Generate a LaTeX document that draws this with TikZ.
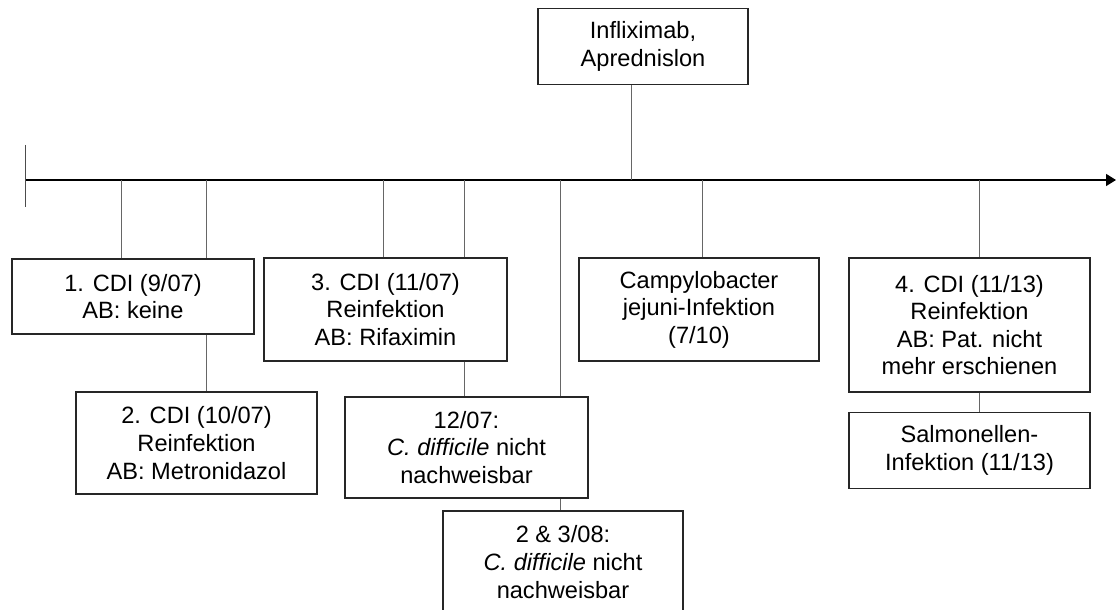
\documentclass[tikz,border=0pt]{standalone}
\usepackage{fontspec}
\setmainfont{Liberation Sans}
\usetikzlibrary{arrows.meta,positioning}

\begin{document}
\begin{tikzpicture}[
        x=0.5pt, y=-0.5pt,
        every node/.style={font=\fontsize{11.8}{13.8}\selectfont, text=black},
        event/.style={rectangle, draw=black!85, line width=0.55pt, align=center, minimum width=120.5pt, inner sep=0pt, fill=white},
        line/.style={draw, black!60, line width=0.5pt},
        axis/.style={draw, black, line width=0.8pt, -{Triangle[length=5pt, width=6pt]}}
    ]
        \useasboundingbox (0,0) rectangle (1116,610);

        % time axis
        \coordinate (start) at (25,180);
        \coordinate (end) at (1116,180);
        \path [axis] (start) -- (end);
        \path [line, black!70] ([yshift=17.5pt]start) -- ([yshift=-13.5pt]start);

        % events
        \node [event, minimum width=105pt, minimum height=38pt] (drug) at (643,46.5) {Infliximab,\\Aprednislon};
        \node [event, minimum width=121pt, minimum height=37.5pt] (cdi1) at (133,296.5) {1. CDI (9/07)\\AB: keine};
        \node [event, minimum height=51pt] (cdi2) at (196.5,443) {2. CDI (10/07)\\Reinfektion\\AB: Metronidazol};
        \node [event, minimum width=121.5pt, minimum height=51.5pt] (cdi3) at (385.5,309.5) {3. CDI (11/07)\\Reinfektion\\AB: Rifaximin};
        \node [event, minimum width=121.5pt, minimum height=50.5pt] (neg1) at (466.5,447.5) {12/07:\\\textit{C. difficile} nicht\\nachweisbar};
        \node [event, minimum width=120pt, minimum height=51pt] (neg2) at (563,562) {2 \& 3/08:\\\textit{C. difficile} nicht\\nachweisbar};
        \node [event, minimum width=120pt, minimum height=51.5pt] (campy) at (699,309.5) {Campylobacter\\jejuni-Infektion\\(7/10)};
        \node [event, minimum height=67pt] (cdi4) at (969.5,325) {4. CDI (11/13)\\Reinfektion\\AB: Pat. nicht\\mehr erschienen};
        \node [event, minimum height=38pt, below=9.5pt of cdi4] (salm) {Salmonellen-\\Infektion (11/13)};

        % links to the axis
        \coordinate (t0) at (631,180);
        \path [line] (drug.south -| t0) -- (t0);
        \foreach \x/\b [count=\i] in {121/cdi1, 206/cdi1, 383/cdi3, 464/cdi3, 560/neg1, 702/campy, 979/cdi4} {
            \coordinate (t\i) at (\x,180);
            \path [line] (t\i) -- (t\i |- \b.north);
        }

        % follow-ups
        \path [line] (cdi1.south -| t2) -- (t2 |- cdi2.north);
        \path [line] (cdi3.south -| t4) -- (t4 |- neg1.north);
        \path [line] (neg1.south -| t5) -- (t5 |- neg2.north);
        \path [line] (cdi4.south -| t7) -- (t7 |- salm.north);
    \end{tikzpicture}
\end{document}
